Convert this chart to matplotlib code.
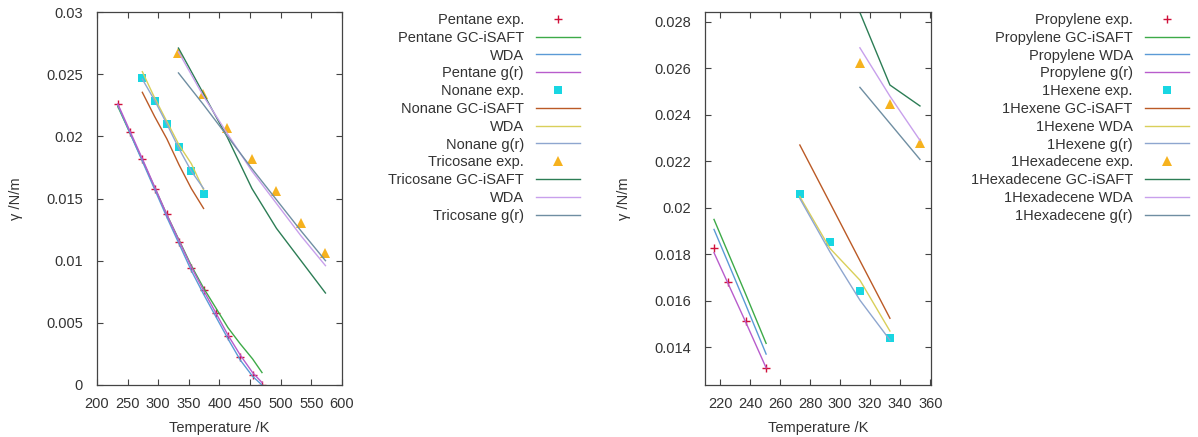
import matplotlib
matplotlib.use("Agg")
import matplotlib.pyplot as plt

plt.rcParams['font.family'] = ['Liberation Sans', 'DejaVu Sans']

# ---------------- data: left panel ----------------
pentane_T_exp = [234, 254, 274, 294, 314, 334, 354, 374, 394, 414, 434, 454, 469.7]
pentane_exp = [0.02260, 0.02032, 0.01820, 0.01579, 0.01373, 0.01148, 0.00944,
               0.00761, 0.00576, 0.00394, 0.00228, 0.00080, 0.0]
pentane_T_mod = [234, 274, 314, 354, 374, 394, 414, 434, 454, 469.4]
pentane_gc = [0.0224, 0.0181, 0.0137, 0.0096, 0.0078, 0.0062, 0.0046, 0.0033, 0.0021, 0.0010]
pentane_wda = [0.0225, 0.0180, 0.0135, 0.0092, 0.0073, 0.0055, 0.0037, 0.0020, 0.0007, 0.0]
pentane_gr = [0.0226, 0.0182, 0.0137, 0.0095, 0.0076, 0.0058, 0.0040, 0.0024, 0.0010, 0.0002]

nonane_T = [274, 294, 314, 334, 354, 374]
nonane_exp = [0.02472, 0.02287, 0.02097, 0.01912, 0.01721, 0.01534]
nonane_gc = [0.02354, 0.0216, 0.0198, 0.0177, 0.0158, 0.0142]
nonane_wda = [0.0252, 0.0231, 0.0212, 0.0193, 0.0178, 0.0157]
nonane_gr = [0.0246, 0.0229, 0.0210, 0.0190, 0.0172, 0.0158]

tricosane_T = [333, 373, 413, 453, 493, 533, 573]
tricosane_exp = [0.02668, 0.02341, 0.02070, 0.01820, 0.01558, 0.01303, 0.01064]
tricosane_gc = [0.0271, 0.0235, 0.0199, 0.0158, 0.0126, 0.0100, 0.0074]
tricosane_wda = [0.0268, 0.0233, 0.0202, 0.0172, 0.0146, 0.0120, 0.0096]
tricosane_gr = [0.0251, 0.0226, 0.0200, 0.0174, 0.0149, 0.0124, 0.0100]

# ---------------- data: right panel ----------------
propylene_T = [216, 225.3, 237, 250.7]
propylene_exp = [0.01828, 0.01679, 0.01512, 0.01312]
propylene_gc = [0.01950, 0.01808, 0.01630, 0.01417]
propylene_wda = [0.01907, 0.01765, 0.01585, 0.01371]
propylene_gr = [0.01807, 0.01675, 0.01510, 0.01312]

hexene_T = [273.15, 293.15, 313.15, 333.15]
hexene_exp = [0.02058, 0.01851, 0.01642, 0.01439]
hexene_gc = [0.0227, 0.02022, 0.01773, 0.01525]
hexene_wda = [0.02048, 0.01826, 0.01689, 0.01470]
hexene_gr = [0.02040, 0.01811, 0.01603, 0.01431]

hexadecene_T = [313.15, 333.15, 353.15]
hexadecene_exp = [0.02621, 0.02445, 0.02277]
hexadecene_gc = [0.02840, 0.02528, 0.02438]
hexadecene_wda = [0.02688, 0.02480, 0.02290]
hexadecene_gr = [0.02518, 0.02363, 0.02208]

left_labels = ["Pentane exp.", "Pentane GC-iSAFT", "WDA", "Pentane g(r)",
               "Nonane exp.", "Nonane GC-iSAFT", "WDA", "Nonane g(r)",
               "Tricosane exp.", "Tricosane GC-iSAFT", "WDA", "Tricosane g(r)"]
right_labels = ["Propylene exp.", "Propylene GC-iSAFT", "Propylene WDA", "Propylene g(r)",
                "1Hexene exp.", "1Hexene GC-iSAFT", "1Hexene WDA", "1Hexene g(r)",
                "1Hexadecene exp.", "1Hexadecene GC-iSAFT", "1Hexadecene WDA", "1Hexadecene g(r)"]

left_yticks = [0, 0.005, 0.01, 0.015, 0.02, 0.025, 0.03]
left_ytick_labels = ["0", "0.005", "0.01", "0.015", "0.02", "0.025", "0.03"]
left_xticks = [200, 250, 300, 350, 400, 450, 500, 550, 600]
right_yticks = [0.014, 0.016, 0.018, 0.02, 0.022, 0.024, 0.026, 0.028]
right_ytick_labels = ["0.014", "0.016", "0.018", "0.02", "0.022", "0.024", "0.026", "0.028"]
right_xticks = [220, 240, 260, 280, 300, 320, 340, 360]

# ---------------- styles ----------------
C_RED = '#d0103a'
C_GREEN = '#3daa48'
C_LBLUE = '#5b9ad6'
C_PURPLE = '#b85ccc'
C_CYAN = '#18d6e2'
C_BROWN = '#bb5a26'
C_YELLOW = '#d9cf5a'
C_STEEL = '#8ea6cf'
C_ORANGE = '#f6b21e'
C_DGREEN = '#2c7d55'
C_LAV = '#c8a0ec'
C_SLATE = '#6f8ea2'
TXT = '#333333'
LW = 1.0
FS = 10.5

fig = plt.figure(figsize=(11.98, 4.37), dpi=100)
axL = fig.add_axes([97 / 1198, 1 - 385 / 437, 245 / 1198, 373 / 437])
axR = fig.add_axes([705 / 1198, 1 - 385 / 437, 226 / 1198, 373 / 437])


def series(ax, T, exp, gc, wda, gr, Tm, mk, mcol, gcc, wdac, grc, ms):
    h = []
    if mk == '+':
        h.append(ax.plot(T, exp, linestyle='none', marker='+', color=mcol, ms=ms, mew=1.0)[0])
    else:
        h.append(ax.plot(T, exp, linestyle='none', marker=mk, color=mcol, ms=ms, mew=0)[0])
    h.append(ax.plot(Tm, gc, color=gcc, lw=LW)[0])
    h.append(ax.plot(Tm, wda, color=wdac, lw=LW)[0])
    h.append(ax.plot(Tm, gr, color=grc, lw=LW)[0])
    return h


hL = []
hL += series(axL, pentane_T_exp, pentane_exp, pentane_gc, pentane_wda, pentane_gr, pentane_T_mod,
             '+', C_RED, C_GREEN, C_LBLUE, C_PURPLE, 6)
hL += series(axL, nonane_T, nonane_exp, nonane_gc, nonane_wda, nonane_gr, nonane_T,
             's', C_CYAN, C_BROWN, C_YELLOW, C_STEEL, 6)
hL += series(axL, tricosane_T, tricosane_exp, tricosane_gc, tricosane_wda, tricosane_gr, tricosane_T,
             '^', C_ORANGE, C_DGREEN, C_LAV, C_SLATE, 7)

hR = []
hR += series(axR, propylene_T, propylene_exp, propylene_gc, propylene_wda, propylene_gr, propylene_T,
             '+', C_RED, C_GREEN, C_LBLUE, C_PURPLE, 6)
hR += series(axR, hexene_T, hexene_exp, hexene_gc, hexene_wda, hexene_gr, hexene_T,
             's', C_CYAN, C_BROWN, C_YELLOW, C_STEEL, 6)
hR += series(axR, hexadecene_T, hexadecene_exp, hexadecene_gc, hexadecene_wda, hexadecene_gr, hexadecene_T,
             '^', C_ORANGE, C_DGREEN, C_LAV, C_SLATE, 7)

axL.set_xlim(200, 600)
axL.set_ylim(0, 0.03)
axL.set_xticks(left_xticks)
axL.set_yticks(left_yticks)
axL.set_yticklabels(left_ytick_labels)

axR.set_xlim(210, 360.5)
axR.set_ylim(0.01238, 0.02842)
axR.set_xticks(right_xticks)
axR.set_yticks(right_yticks)
axR.set_yticklabels(right_ytick_labels)

for ax in (axL, axR):
    ax.tick_params(direction='in', top=True, right=True, length=4, width=0.8,
                   color='#444444', labelcolor=TXT, labelsize=FS)
    ax.tick_params(axis='y', pad=10)
    ax.tick_params(axis='x', pad=9)
    for s in ax.spines.values():
        s.set_color('#444444')
        s.set_linewidth(0.9)
    ax.set_xlabel("Temperature /K", fontsize=FS, color=TXT, labelpad=7)
    ax.set_ylabel("γ /N/m", fontsize=FS, color=TXT, labelpad=17)

leg_kw = dict(loc='upper right', frameon=False, markerfirst=False, fontsize=FS,
              handlelength=3.0, handletextpad=0.85, labelspacing=0.26, borderpad=0,
              borderaxespad=0, numpoints=1, labelcolor=TXT)
fig.legend(hL, left_labels, bbox_to_anchor=(580 / 1198, 1 - 13 / 437), **leg_kw)
fig.legend(hR, right_labels, bbox_to_anchor=(1189 / 1198, 1 - 13 / 437), **leg_kw)

fig.savefig("out.png", dpi=100)
